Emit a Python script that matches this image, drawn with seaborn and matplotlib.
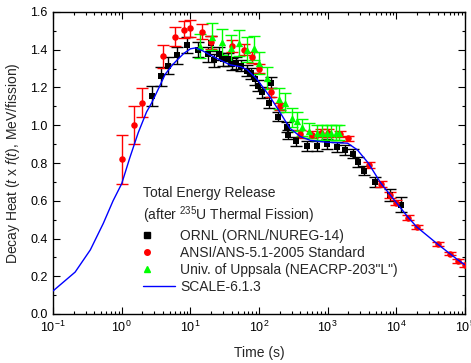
import numpy as np
import pandas as pd
import matplotlib
matplotlib.use("Agg")
import matplotlib.pyplot as plt
import seaborn as sns
from matplotlib.lines import Line2D
from matplotlib.legend_handler import HandlerLine2D
from matplotlib.ticker import LogLocator, MultipleLocator, NullFormatter

# ---------------- data ----------------
ansi_t = [1, 1.5, 2, 4, 6, 8, 10, 15, 20, 40, 60, 80, 100, 150, 200, 400, 600, 800,
          1000, 1500, 2000, 4000, 6000, 8000, 1e4, 1.5e4, 2e4, 4e4, 6e4, 8e4, 1e5]
ansi_y = [0.82, 1.00, 1.12, 1.365, 1.47, 1.505, 1.515, 1.495, 1.44, 1.42, 1.40, 1.36,
          1.30, 1.175, 1.10, 0.955, 0.95, 0.96, 0.96, 0.955, 0.93, 0.79, 0.69, 0.63,
          0.59, 0.51, 0.46, 0.37, 0.32, 0.28, 0.26]
ansi_err = [0.13, 0.10, 0.075, 0.06, 0.05, 0.045, 0.045, 0.04, 0.035, 0.03, 0.03, 0.03,
            0.025, 0.025, 0.02, 0.02, 0.02, 0.02, 0.02, 0.015, 0.015, 0.015, 0.015,
            0.015, 0.012, 0.012, 0.01, 0.01, 0.01, 0.01, 0.01]

ornl_t = [2.8, 3.7, 4.8, 6.4, 8.9, 13, 18, 20, 22, 26, 30, 35, 41, 47, 54, 68, 77, 88,
          98, 112, 142, 150, 190, 255, 265, 350, 500, 700, 980, 1380, 1800, 2300, 2800,
          3400, 4900, 8000, 11700]
ornl_y = [1.155, 1.26, 1.315, 1.37, 1.425, 1.40, 1.375, 1.435, 1.345, 1.38, 1.35, 1.35,
          1.325, 1.33, 1.315, 1.29, 1.275, 1.245, 1.21, 1.175, 1.12, 1.225, 1.045, 0.99,
          0.95, 0.915, 0.89, 0.89, 0.90, 0.885, 0.87, 0.85, 0.805, 0.76, 0.70, 0.63, 0.58]
ornl_err = [0.055, 0.05, 0.045, 0.045, 0.04, 0.04, 0.04, 0.04, 0.035, 0.035, 0.035, 0.035,
            0.03, 0.03, 0.03, 0.03, 0.03, 0.03, 0.03, 0.03, 0.03, 0.03, 0.025, 0.025,
            0.025, 0.025, 0.025, 0.025, 0.025, 0.025, 0.025, 0.025, 0.025, 0.025, 0.025,
            0.03, 0.04]

upp_t = [14, 21, 29, 39, 52, 67, 85, 100, 130, 195, 240, 300, 360, 430, 530, 700, 830,
         980, 1130, 1320, 1480]
upp_y = [1.42, 1.47, 1.44, 1.41, 1.435, 1.40, 1.41, 1.33, 1.25, 1.14, 1.12, 1.04, 1.02,
         0.99, 0.97, 0.96, 0.96, 0.96, 0.96, 0.96, 0.96]
upp_err = [0.065, 0.07, 0.07, 0.07, 0.07, 0.065, 0.065, 0.06, 0.06, 0.055, 0.05, 0.05,
           0.05, 0.045, 0.04, 0.04, 0.04, 0.04, 0.04, 0.04, 0.04]

scale_t = [0.1, 0.21, 0.35, 0.54, 0.75, 1.0, 1.32, 1.74, 2.3, 2.75, 3.5, 4.3, 5.5, 6.4,
           8, 10, 12, 15, 20, 24, 38, 54, 67, 93, 145, 205, 280, 400, 560, 980, 1950,
           2700, 3900, 5900, 1e4, 1.5e4, 2e4, 4e4, 6e4, 8e4, 1e5]
scale_y = [0.122, 0.222, 0.34, 0.48, 0.60, 0.69, 0.83, 0.96, 1.07, 1.12, 1.20, 1.27,
           1.32, 1.345, 1.38, 1.405, 1.41, 1.395, 1.37, 1.355, 1.32, 1.31, 1.295, 1.245,
           1.15, 1.065, 0.985, 0.94, 0.92, 0.91, 0.905, 0.87, 0.80, 0.695, 0.59, 0.51,
           0.46, 0.37, 0.32, 0.285, 0.26]

labels = ["ORNL (ORNL/NUREG-14)", "ANSI/ANS-5.1-2005 Standard",
          "Univ. of Uppsala (NEACRP-203\"L\")", "SCALE-6.1.3"]

# ---------------- style ----------------
sns.set_theme(style="ticks")
plt.rcParams['font.family'] = ['Liberation Sans', 'DejaVu Sans']
plt.rcParams['mathtext.fontset'] = 'custom'
plt.rcParams['mathtext.rm'] = 'Liberation Sans'
plt.rcParams['mathtext.it'] = 'Liberation Sans:italic'
plt.rcParams['mathtext.bf'] = 'Liberation Sans:bold'

fig = plt.figure(figsize=(4.71, 3.63), dpi=100)
W, H = 471, 363
ax = fig.add_axes([53 / W, (H - 314) / H, (465 - 53) / W, (314 - 12) / H])

GREEN = '#00FF00'

# error bars
ax.errorbar(ornl_t, ornl_y, yerr=ornl_err, fmt='none', ecolor='black', elinewidth=1,
            capsize=4, capthick=1, zorder=2)
ax.errorbar(ansi_t, ansi_y, yerr=ansi_err, fmt='none', ecolor='red', elinewidth=1,
            capsize=4, capthick=1, zorder=2)
ax.errorbar(upp_t, upp_y, yerr=upp_err, fmt='none', ecolor=GREEN, elinewidth=1,
            capsize=4, capthick=1, zorder=2)

df_ornl = pd.DataFrame({"t": ornl_t, "y": ornl_y})
df_ansi = pd.DataFrame({"t": ansi_t, "y": ansi_y})
df_upp = pd.DataFrame({"t": upp_t, "y": upp_y})
df_scale = pd.DataFrame({"t": scale_t, "y": scale_y})

sns.scatterplot(data=df_ornl, x="t", y="y", ax=ax, marker='s', color='black', s=22,
                linewidth=0, zorder=3)
sns.scatterplot(data=df_ansi, x="t", y="y", ax=ax, marker='o', color='red', s=22,
                linewidth=0, zorder=3)
sns.scatterplot(data=df_upp, x="t", y="y", ax=ax, marker='^', color=GREEN, s=28,
                linewidth=0, zorder=3)
sns.lineplot(data=df_scale, x="t", y="y", ax=ax, color='blue', linewidth=1, zorder=4,
             estimator=None, sort=False)

ax.set_xscale('log')
ax.set_xlim(0.1, 1e5)
ax.set_ylim(0.0, 1.6)
ax.yaxis.set_minor_locator(MultipleLocator(0.1))
ax.xaxis.set_major_locator(LogLocator(base=10, numticks=10))
ax.xaxis.set_minor_locator(LogLocator(base=10, subs=np.arange(2, 10), numticks=100))
ax.xaxis.set_minor_formatter(NullFormatter())
ax.set_yticks(np.arange(0, 1.61, 0.2))
ax.set_yticklabels([f"{v:.1f}" for v in np.arange(0, 1.61, 0.2)])

ax.tick_params(which='both', direction='in', top=True, right=True, colors='black',
               labelsize=9, width=0.8)
ax.tick_params(which='major', length=5, pad=4)
ax.tick_params(which='minor', length=2.5)
for sp in ax.spines.values():
    sp.set_color('black')
    sp.set_linewidth(1.0)

ax.set_xlabel("Time (s)", fontsize=10, labelpad=8)
ax.set_ylabel(r"Decay Heat ($\mathit{t}$ x $\mathit{f(t)}$, MeV/fission)", fontsize=10,
              labelpad=6)


class LeftMarker(HandlerLine2D):
    def get_xdata(self, legend, xdescent, ydescent, width, height, fontsize):
        xd = np.array([-xdescent, -xdescent + 0.26 * width])
        xm = np.array([-xdescent + 0.13 * width])
        return xd, xm


h_ornl = Line2D([], [], linestyle='none', marker='s', color='black', markersize=4)
h_ansi = Line2D([], [], linestyle='none', marker='o', color='red', markersize=4)
h_upp = Line2D([], [], linestyle='none', marker='^', color=GREEN, markersize=4.5)
h_scale = Line2D([], [], color='blue', linewidth=1)

leg = ax.legend([h_ornl, h_ansi, h_upp, h_scale], labels,
                title="Total Energy Release\n(after $^{235}$U Thermal Fission)",
                loc='upper left', bbox_to_anchor=(143 / W, 1 - 186 / H),
                bbox_transform=fig.transFigure, frameon=False, fontsize=10,
                title_fontsize=10, handlelength=2.3, handletextpad=0.4,
                borderpad=0, borderaxespad=0, labelspacing=0.22, alignment='left',
                handler_map={h_ornl: LeftMarker(numpoints=1),
                             h_ansi: LeftMarker(numpoints=1),
                             h_upp: LeftMarker(numpoints=1)})
leg.get_title().set_linespacing(1.3)
leg._legend_box.sep = 2

fig.savefig("out.png", dpi=100)
